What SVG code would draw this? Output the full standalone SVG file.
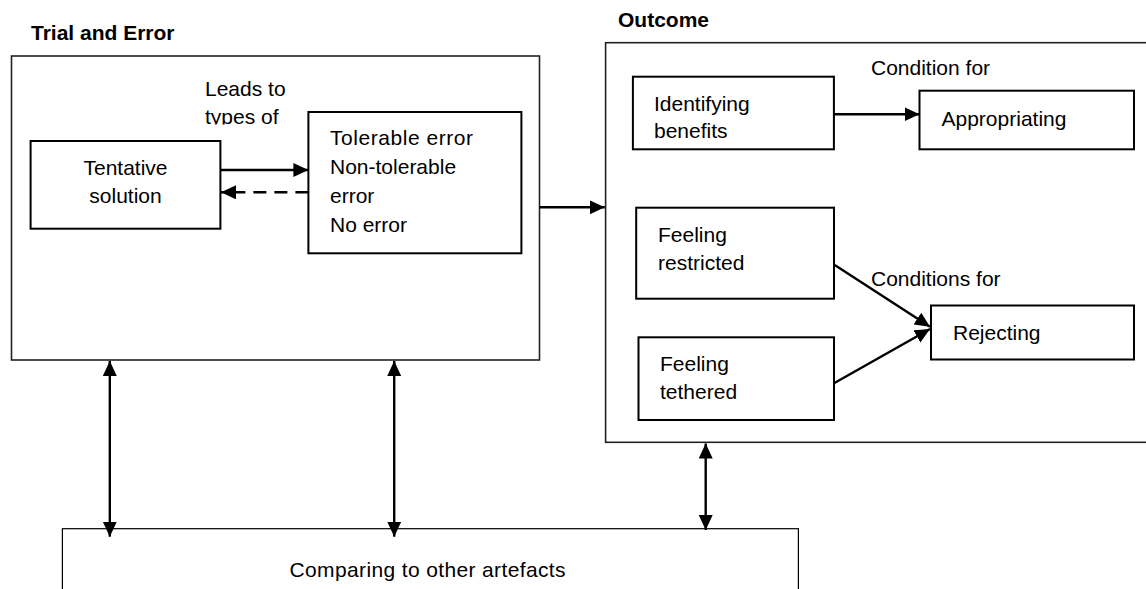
<svg xmlns="http://www.w3.org/2000/svg" width="1146" height="589" viewBox="0 0 1146 589">
<style>
text{font-family:"Liberation Sans",Arial,sans-serif;font-size:21px;fill:#000}
.b{font-weight:bold}
.outer{fill:none;stroke:#222;stroke-width:1.6}
.box{fill:#fff;stroke:#000;stroke-width:2}
.thin{fill:#fff;stroke:#000;stroke-width:1.2}
.c{stroke:#000;stroke-width:2.4;fill:none}
.d{stroke-dasharray:13 8}
</style>
<defs>
<marker id="ah" markerUnits="userSpaceOnUse" markerWidth="16" markerHeight="15" refX="15" refY="7" orient="auto-start-reverse">
<path d="M0,0 L15,7 L0,14 z" fill="#000"/>
</marker>
<clipPath id="clipTypes"><rect x="190" y="60" width="120" height="64.5"/></clipPath>
</defs>
<g id="trial-and-error">
<text class="b" x="31" y="40">Trial and Error</text>
<rect class="outer" x="11.5" y="56" width="528" height="304"/>
<text x="205" y="95.5">Leads to</text>
<text x="205" y="123.5" clip-path="url(#clipTypes)">types of</text>
</g>
<g id="tentative-solution">
<rect class="box" x="30.6" y="141" width="189.8" height="87.7"/>
<text x="125.5" y="175" text-anchor="middle">Tentative</text>
<text x="125.5" y="203" text-anchor="middle">solution</text>
</g>
<g id="error-types">
<rect class="box" x="308.4" y="112" width="213" height="141.3"/>
<text x="330" y="145" textLength="143" lengthAdjust="spacing">Tolerable error</text>
<text x="330" y="174">Non-tolerable</text>
<text x="330" y="202.5">error</text>
<text x="330" y="232.3">No error</text>
</g>
<g id="outcome">
<text class="b" x="618" y="26.7">Outcome</text>
<rect class="outer" x="605.6" y="42.7" width="560" height="399.6"/>
<text x="871" y="75">Condition for</text>
<text x="871" y="285.5">Conditions for</text>
</g>
<g id="identifying-benefits">
<rect class="box" x="632.9" y="76.7" width="201" height="72.6"/>
<text x="654" y="111">Identifying</text>
<text x="654" y="138.3">benefits</text>
</g>
<g id="appropriating">
<rect class="box" x="919.5" y="90.7" width="214.5" height="58.6"/>
<text x="941.5" y="125.5">Appropriating</text>
</g>
<g id="feeling-restricted">
<rect class="box" x="636.2" y="207.7" width="197.8" height="91"/>
<text x="658" y="241.7">Feeling</text>
<text x="658" y="270">restricted</text>
</g>
<g id="feeling-tethered">
<rect class="box" x="638.5" y="337.3" width="195.5" height="82.7"/>
<text x="660" y="371">Feeling</text>
<text x="660" y="399.3">tethered</text>
</g>
<g id="rejecting">
<rect class="box" x="931" y="305.5" width="203" height="54"/>
<text x="953" y="340">Rejecting</text>
</g>
<g id="comparing">
<rect class="thin" x="62.4" y="528.7" width="736" height="80"/>
<text x="289.5" y="576.7" textLength="276" lengthAdjust="spacing">Comparing to other artefacts</text>
</g>
<g id="connectors">
<line class="c" x1="220.4" y1="170" x2="308.4" y2="170" marker-end="url(#ah)"/>
<line class="c d" x1="308.4" y1="192.3" x2="221" y2="192.3" marker-end="url(#ah)"/>
<line class="c" x1="539.5" y1="207.3" x2="604.8" y2="207.3" marker-end="url(#ah)"/>
<line class="c" x1="833.9" y1="114.3" x2="919.5" y2="114.3" marker-end="url(#ah)"/>
<line class="c" x1="834.7" y1="265" x2="930" y2="326.7" marker-end="url(#ah)"/>
<line class="c" x1="834" y1="383.3" x2="930" y2="329" marker-end="url(#ah)"/>
<line class="c" x1="109.8" y1="361" x2="109.8" y2="536.7" marker-start="url(#ah)" marker-end="url(#ah)"/>
<line class="c" x1="394.2" y1="361" x2="394.2" y2="536.7" marker-start="url(#ah)" marker-end="url(#ah)"/>
<line class="c" x1="705.7" y1="443.5" x2="705.7" y2="530" marker-start="url(#ah)" marker-end="url(#ah)"/>
</g>
</svg>
